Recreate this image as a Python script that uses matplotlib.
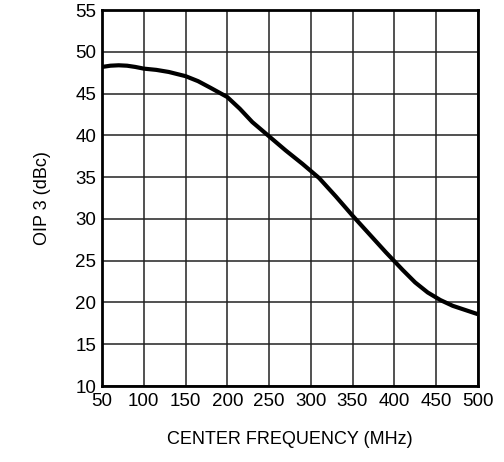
import matplotlib
matplotlib.use('Agg')
import matplotlib.pyplot as plt

# data
freq = [50, 60, 70, 80, 90, 100, 115, 130, 150, 165, 180, 200, 215, 230, 250,
        270, 290, 310, 330, 350, 370, 390, 410, 425, 440, 455, 470, 485, 500]
oip3 = [48.2, 48.35, 48.4, 48.35, 48.2, 48.0, 47.85, 47.6, 47.1, 46.5, 45.7, 44.6, 43.2, 41.6, 39.9,
        38.2, 36.6, 34.9, 32.7, 30.4, 28.2, 26.0, 23.9, 22.4, 21.2, 20.3, 19.6, 19.1, 18.6]

xticks = [50, 100, 150, 200, 250, 300, 350, 400, 450, 500]
yticks = [10, 15, 20, 25, 30, 35, 40, 45, 50, 55]

plt.rcParams['font.family'] = ['Liberation Sans', 'DejaVu Sans']

fig = plt.figure(figsize=(5.04, 4.62), dpi=100)
ax = fig.add_axes([0.2024, 0.1645, 0.7456, 0.8135])

ax.plot(freq, oip3, color='black', linewidth=3, solid_capstyle='butt', solid_joinstyle='round')

ax.set_xlim(50, 500)
ax.set_ylim(10, 55)
ax.set_xticks(xticks)
ax.set_yticks(yticks)
ax.grid(True, color='#222222', linewidth=1.1)
ax.tick_params(length=0, labelsize=13.5)
ax.tick_params(axis='x', pad=5)
ax.tick_params(axis='y', pad=4)
for s in ax.spines.values():
    s.set_linewidth(2)

ax.set_xlabel('CENTER FREQUENCY (MHz)', fontsize=13, labelpad=15.5)
ax.set_ylabel('OIP 3 (dBc)', fontsize=13, labelpad=17.5)

plt.savefig('out.png', dpi=100)
